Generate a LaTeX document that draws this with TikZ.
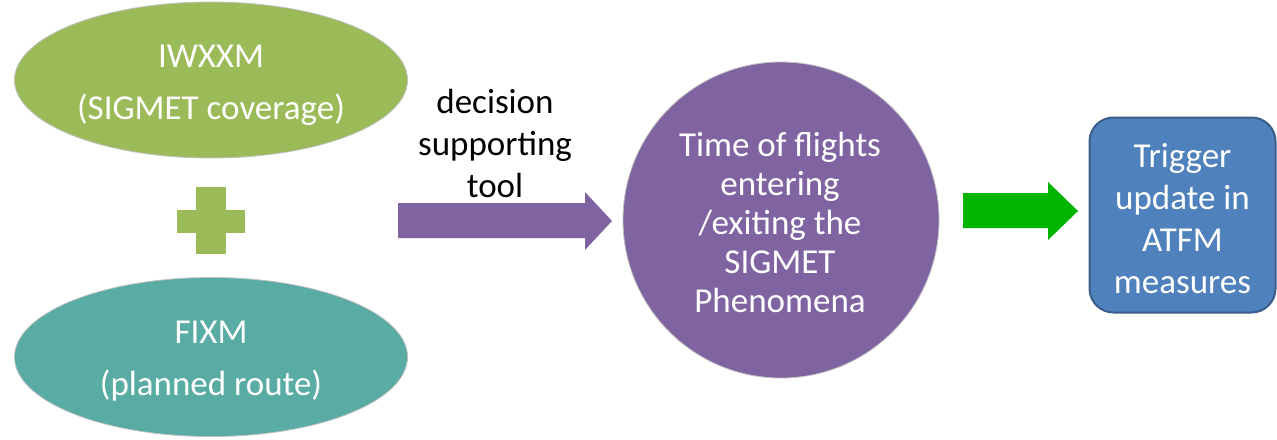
\documentclass[tikz,border=0pt]{standalone}
\usepackage{fontspec}
\setmainfont{Carlito}
\usepackage{tikz}
\usetikzlibrary{shapes.geometric}

\definecolor{olivegreen}{RGB}{155,187,89}
\definecolor{tealblue}{RGB}{88,172,164}
\definecolor{violet}{RGB}{128,100,162}
\definecolor{boxblue}{RGB}{79,129,189}
\definecolor{boxedge}{RGB}{56,93,138}
\definecolor{brightgreen}{RGB}{0,180,0}

\begin{document}
\begin{tikzpicture}[x=0.5pt,y=-0.5pt]
\tikzstyle{every node}+=[inner sep=0pt, text=white]
\tikzstyle{blob}=[ellipse, draw=black!25, line width=0.4pt]
\tikzstyle{words}=[align=center, font=\fontsize{17.5}{21}\selectfont]
\useasboundingbox (0,0) rectangle (1277,439);
% input data
\node [blob, fill=olivegreen, minimum width=196.5pt, minimum height=78pt] (iwxxm) at (211,80) {};
\node [words, font=\fontsize{17.5}{26}\selectfont] (iwxxmtext) at (211,85) {IWXXM\\(SIGMET coverage)};
\node [blob, fill=tealblue, minimum width=196.5pt, minimum height=79.5pt] (fixm) at (211,357) {};
\node [words, font=\fontsize{17.5}{26}\selectfont] (fixmtext) at (211,361) {FIXM\\(planned route)};
\fill [olivegreen] (177,210) rectangle (245,233);
\fill [olivegreen] (196,187) rectangle (226,254);
% tool
\node [words, text=black] (tool) at (495,143) {decision\\supporting\\tool};
\fill [violet] (398,203) -- (585,203) -- (585,192) -- (612,221) -- (585,250) -- (585,238) -- (398,238) -- cycle;
% result
\node [circle, fill=violet, draw=black!25, line width=0.4pt, minimum size=158pt] (times) at (781,220) {};
\node [words, font=\fontsize{17.5}{19.5}\selectfont] (timetext) at (780,222)
  {Time of flights\\entering\\/exiting the\\SIGMET\\Phenomena};
\fill [brightgreen] (963,193) -- (1048,193) -- (1048,182) -- (1078,211) -- (1048,240) -- (1048,228) -- (963,228) -- cycle;
\node [rectangle, rounded corners=12pt, fill=boxblue, draw=boxedge, line width=1pt,
  minimum width=93pt, minimum height=97.5pt] (atfm) at (1182.5,215) {};
\node [words] (atfmtext) at (1182.5,219) {Trigger\\update in\\ATFM\\measures};
\end{tikzpicture}
\end{document}
